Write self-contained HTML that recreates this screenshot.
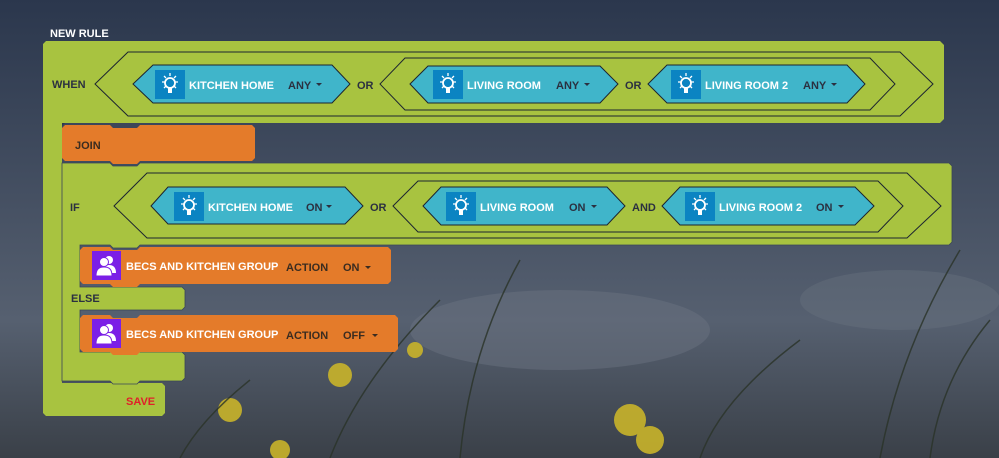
<!DOCTYPE html>
<html><head><meta charset="utf-8"><style>
html,body{margin:0;padding:0;width:999px;height:458px;overflow:hidden;background:#3a4558}
svg{display:block}
text{font-family:"Liberation Sans",sans-serif;font-weight:bold;font-size:11px}
</style></head><body>
<svg width="999" height="458" viewBox="0 0 999 458" xmlns="http://www.w3.org/2000/svg">
<defs>
<linearGradient id="bg" x1="0" y1="0" x2="0" y2="1">
<stop offset="0" stop-color="#2b374d"/><stop offset="0.35" stop-color="#404b5e"/><stop offset="0.7" stop-color="#566070"/><stop offset="1" stop-color="#3a4048"/>
</linearGradient>
<g id="bulb">
<rect x="0" y="0" width="30" height="29" fill="#0b84c2"/>
<circle cx="15" cy="13" r="5" fill="none" stroke="#fff" stroke-width="1.8"/>
<rect x="13" y="17" width="4" height="6" fill="#fff"/>
<path d="M15 3v3M7 12h3M20 12h3M9 6l2 2M21 6l-2 2M9 18l2-2M21 18l-2-2" stroke="#fff" stroke-width="1.3"/>
</g>
<g id="grp">
<rect x="0" y="0" width="29" height="29" fill="#7b1fe6"/>
<circle cx="17" cy="9" r="4" fill="#fff"/><path d="M10 22c0-6 3-8 7-8s7 2 7 8z" fill="#fff"/>
<circle cx="12" cy="11" r="4.5" fill="#fff" stroke="#7b1fe6"/><path d="M4 25c0-7 3-9 8-9s8 2 8 9z" fill="#fff" stroke="#7b1fe6"/>
</g>
</defs>
<rect width="999" height="458" fill="url(#bg)"/>
<ellipse cx="560" cy="330" rx="150" ry="40" fill="#6a7280" opacity="0.5"/>
<ellipse cx="900" cy="300" rx="100" ry="30" fill="#6a7280" opacity="0.4"/>
<g fill="#c9b42a" opacity="0.9">
<circle cx="340" cy="375" r="12"/><circle cx="230" cy="410" r="12"/><circle cx="630" cy="420" r="16"/><circle cx="650" cy="440" r="14"/><circle cx="415" cy="350" r="8"/><circle cx="280" cy="450" r="10"/>
</g>
<g stroke="#2a3328" stroke-width="1.5" fill="none" opacity="0.8">
<path d="M330 458 Q360 380 440 300"/><path d="M460 458 Q470 350 520 260"/><path d="M880 458 Q900 350 960 250"/><path d="M930 458 Q940 380 990 320"/><path d="M700 458 Q720 400 800 340"/><path d="M180 458 Q200 420 250 380"/>
</g>

<text x="50" y="37" fill="#fff" font-size="11">NEW RULE</text>

<!-- outer green -->
<path d="M46 41H940l4 4V119l-4 4H62V383H162l3 3V413l-3 3H46l-3-3V44z" fill="#a8c340"/>
<path d="M62 123 l0 3 l3 -3z" fill="#2b374d"/>
<!-- WHEN row -->
<text x="52" y="88" fill="#2b3040">WHEN</text>
<path d="M95 84L128 52H900L933 84L900 116H128Z" fill="none" stroke="#1c2430"/>
<path d="M133 84L153 65H332L350 84L332 103H153Z" fill="#40b5ca" stroke="#1c2430"/>
<use href="#bulb" x="155" y="70"/>
<text x="189" y="89" fill="#fff">KITCHEN HOME</text>
<text x="288" y="89" fill="#2b3040">ANY</text><path d="M316 83h6l-3 3z" fill="#2b3040"/>
<text x="357" y="89" fill="#2b3040">OR</text>
<path d="M380 84L405 58H870L895 84L870 110H405Z" fill="none" stroke="#1c2430"/>
<path d="M410 84L428 66H600L618 84L600 103H428Z" fill="#40b5ca" stroke="#1c2430"/>
<use href="#bulb" x="433" y="70"/>
<text x="467" y="89" fill="#fff">LIVING ROOM</text>
<text x="556" y="89" fill="#2b3040">ANY</text><path d="M584 83h6l-3 3z" fill="#2b3040"/>
<text x="625" y="89" fill="#2b3040">OR</text>
<path d="M648 84L667 65H847L865 84L847 103H667Z" fill="#40b5ca" stroke="#1c2430"/>
<use href="#bulb" x="671" y="70"/>
<text x="705" y="89" fill="#fff">LIVING ROOM 2</text>
<text x="803" y="89" fill="#2b3040">ANY</text><path d="M831 83h6l-3 3z" fill="#2b3040"/>

<!-- JOIN -->
<path d="M65 125H110l3 3H137l3-3H252l3 3V158l-3 3H140l-3 3H113l-3-3H65l-3-3V128z" fill="#e47b2a"/>
<text x="75" y="149" fill="#3a2c20" font-weight="normal">JOIN</text>

<!-- IF block -->
<path d="M62 163H110l3 3H137l3-3H949l3 3V242l-3 3H140l-3 3H113l-3-3H80V287H182l3 3V307l-3 3H80V352H182l3 3V378l-3 3H140l-3 3H113l-3-3H62z" fill="#a8c340" stroke="#3a4558" stroke-width="0.8"/>
<text x="70" y="211" fill="#2b3040" font-weight="normal">IF</text>
<path d="M114 206L147 173H907L941 206L907 238H147Z" fill="none" stroke="#1c2430"/>
<path d="M151 206L168 187H345L363 206L345 224H168Z" fill="#40b5ca" stroke="#1c2430"/>
<use href="#bulb" x="174" y="192"/>
<text x="208" y="211" fill="#fff">KITCHEN HOME</text>
<text x="306" y="211" fill="#2b3040">ON</text><path d="M326 205h6l-3 3z" fill="#2b3040"/>
<text x="370" y="211" fill="#2b3040">OR</text>
<path d="M393 206L418 181H878L903 206L878 232H418Z" fill="none" stroke="#1c2430"/>
<path d="M423 206L441 187H607L625 206L607 225H441Z" fill="#40b5ca" stroke="#1c2430"/>
<use href="#bulb" x="446" y="192"/>
<text x="480" y="211" fill="#fff">LIVING ROOM</text>
<text x="569" y="211" fill="#2b3040">ON</text><path d="M591 205h6l-3 3z" fill="#2b3040"/>
<text x="632" y="211" fill="#2b3040">AND</text>
<path d="M662 206L680 187H855L874 206L855 225H680Z" fill="#40b5ca" stroke="#1c2430"/>
<use href="#bulb" x="685" y="192"/>
<text x="719" y="211" fill="#fff">LIVING ROOM 2</text>
<text x="816" y="211" fill="#2b3040">ON</text><path d="M838 205h6l-3 3z" fill="#2b3040"/>

<!-- action 1 -->
<path d="M83 247H110l3 3H137l3-3H388l3 3V281l-3 3H140l-3 3H113l-3-3H83l-3-3V250z" fill="#e47b2a"/>
<use href="#grp" x="92" y="251"/>
<text x="126" y="270" fill="#fff">BECS AND KITCHEN GROUP</text>
<text x="286" y="271" fill="#3a2c20" font-weight="normal">ACTION</text>
<text x="343" y="271" fill="#3a2c20" font-weight="normal">ON</text><path d="M365 266h6l-3 3z" fill="#3a2c20"/>
<text x="71" y="302" fill="#2b3040" font-weight="normal">ELSE</text>
<!-- action 2 -->
<path d="M83 315H110l3 3H137l3-3H395l3 3V349l-3 3H140l-3 3H113l-3-3H83l-3-3V318z" fill="#e47b2a"/>
<use href="#grp" x="92" y="319"/>
<text x="126" y="338" fill="#fff">BECS AND KITCHEN GROUP</text>
<text x="286" y="339" fill="#3a2c20" font-weight="normal">ACTION</text>
<text x="343" y="339" fill="#3a2c20" font-weight="normal">OFF</text><path d="M372 334h6l-3 3z" fill="#3a2c20"/>

<text x="126" y="405" fill="#e0202a" font-weight="normal" font-size="10">SAVE</text>
</svg>
</body></html>
